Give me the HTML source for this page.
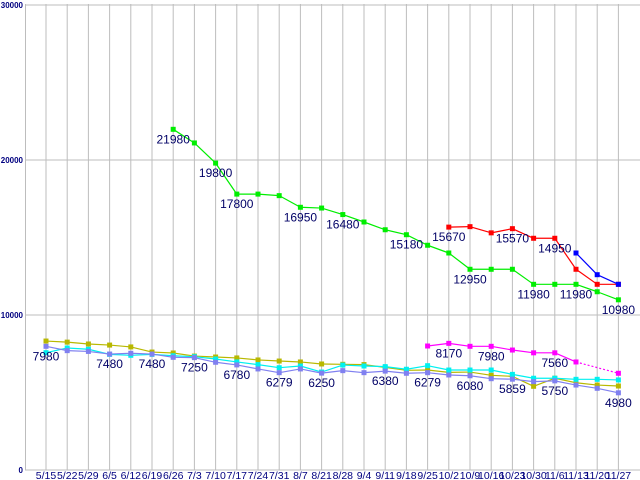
<!DOCTYPE html>
<html><head><meta charset="utf-8"><style>
html,body{margin:0;padding:0;background:#fff;width:640px;height:480px;overflow:hidden}
svg{display:block}
text{font-family:"Liberation Sans",sans-serif}
</style></head><body>
<svg id="chart" width="640" height="480" xmlns="http://www.w3.org/2000/svg"></svg>
<script>
const categories=["5/15","5/22","5/29","6/5","6/12","6/19","6/26","7/3","7/10","7/17","7/24","7/31","8/7","8/21","8/28","9/4","9/11","9/18","9/25","10/2","10/9","10/16","10/23","10/30","11/6","11/13","11/20","11/27"];
const yTicks=[0,10000,20000,30000];
const greenStart=6;
const greenValues=[21980,21100,19800,17800,17800,17700,16950,16900,16480,16000,15500,15180,14500,14000,12950,12950,12950,11980,11980,11980,11500,10980];
const greenLabels=[6,8,9,12,14,17,20,23,25,27];
const redStart=19;
const redValues=[15670,15700,15300,15570,14950,14950,12950,11980,11980];
const redLabels=[19,22,24];
const blueStart=25;
const blueValues=[14000,12600,11980];
const oliveValues=[8320,8250,8130,8060,7940,7610,7550,7350,7290,7230,7100,7030,6970,6840,6820,6800,6620,6430,6450,6300,6320,6110,6040,5400,5920,5630,5480,5420];
const cyanValues=[7570,7870,7790,7460,7400,7460,7370,7310,7160,6970,6800,6600,6710,6320,6770,6710,6670,6500,6730,6450,6450,6450,6170,5920,5920,5850,5850,5810];
const purpleValues=[7980,7700,7650,7480,7530,7480,7270,7250,6950,6780,6520,6279,6520,6250,6410,6280,6380,6240,6279,6130,6080,5890,5859,5700,5750,5480,5270,4980];
const purpleLabels=[0,3,5,7,9,11,13,16,18,20,22,24,27];
const magentaStart=18;
const magentaValues=[8000,8170,7980,7980,7740,7560,7560,6970,null,6240];
const magentaLabels=[19,21,24];

const svg=document.getElementById('chart');
const NS='http://www.w3.org/2000/svg';
const X0=46,DX=21.2,Y0=470,YS=0.0155;
function xs(i){return X0+i*DX;}
function ys(v){return Y0-v*YS;}
function mk(tag,attrs){const e=document.createElementNS(NS,tag);for(const k in attrs)e.setAttribute(k,attrs[k]);svg.appendChild(e);return e;}

yTicks.forEach(t=>{
  const l=mk('line',{x1:25,x2:640,y1:ys(t),y2:ys(t),stroke:'#bdbdbd','stroke-width':1});
  
  
  const tx=mk('text',{x:23,y:ys(t)+3,'text-anchor':'end','font-size':8,'font-weight':'bold',fill:'#000080'});
  tx.textContent=t;
  
  
});
const ax=mk('line',{x1:25.5,x2:25.5,y1:4,y2:470,stroke:'#bdbdbd','stroke-width':1});


categories.forEach((c,i)=>{
  const l=mk('line',{x1:xs(i),x2:xs(i),y1:4,y2:470,stroke:'#bdbdbd','stroke-width':1});
  
  
  const tx=mk('text',{x:xs(i),y:479,'text-anchor':'middle','font-size':10.5,fill:'#000080'});
  tx.textContent=c;
  
  
});

function series(name,start,vals,color,dashFrom){
  let prev=-1;
  for(let k=0;k<vals.length;k++){
    if(vals[k]===null)continue;
    if(prev>=0){
      const i0=start+prev,i1=start+k;
      const l=mk('line',{x1:xs(i0),y1:ys(vals[prev]),x2:xs(i1),y2:ys(vals[k]),stroke:color,'stroke-width':1.2});
      if(dashFrom!==undefined&&i0>=dashFrom)l.setAttribute('stroke-dasharray','2,2');
      
      
    }
    prev=k;
  }
  vals.forEach((v,k)=>{
    if(v===null)return;
    const r=mk('rect',{x:xs(start+k)-2.5,y:ys(v)-2.5,width:5,height:5,fill:color});
    
    
  });
}
function labels(name,start,vals,idx){
  idx.forEach(i=>{
    const v=vals[i-start];
    const t=mk('text',{x:xs(i),y:ys(v)+14,'text-anchor':'middle','font-size':12,fill:'#000066'});
    t.textContent=v;
    
    
  });
}
series('olive-series',0,oliveValues,'#b8b800');
series('cyan-series',0,cyanValues,'#00f0f0');
series('purple-series',0,purpleValues,'#8080f0');
series('magenta-series',magentaStart,magentaValues,'#ff00ff',25);
series('green-series',greenStart,greenValues,'#00ee00');
series('red-series',redStart,redValues,'#ff0000');
series('blue-series',blueStart,blueValues,'#0000ff');
labels('green',greenStart,greenValues,greenLabels);
labels('red',redStart,redValues,redLabels);
labels('purple',0,purpleValues,purpleLabels);
labels('magenta',magentaStart,magentaValues,magentaLabels);
</script>
</body></html>
